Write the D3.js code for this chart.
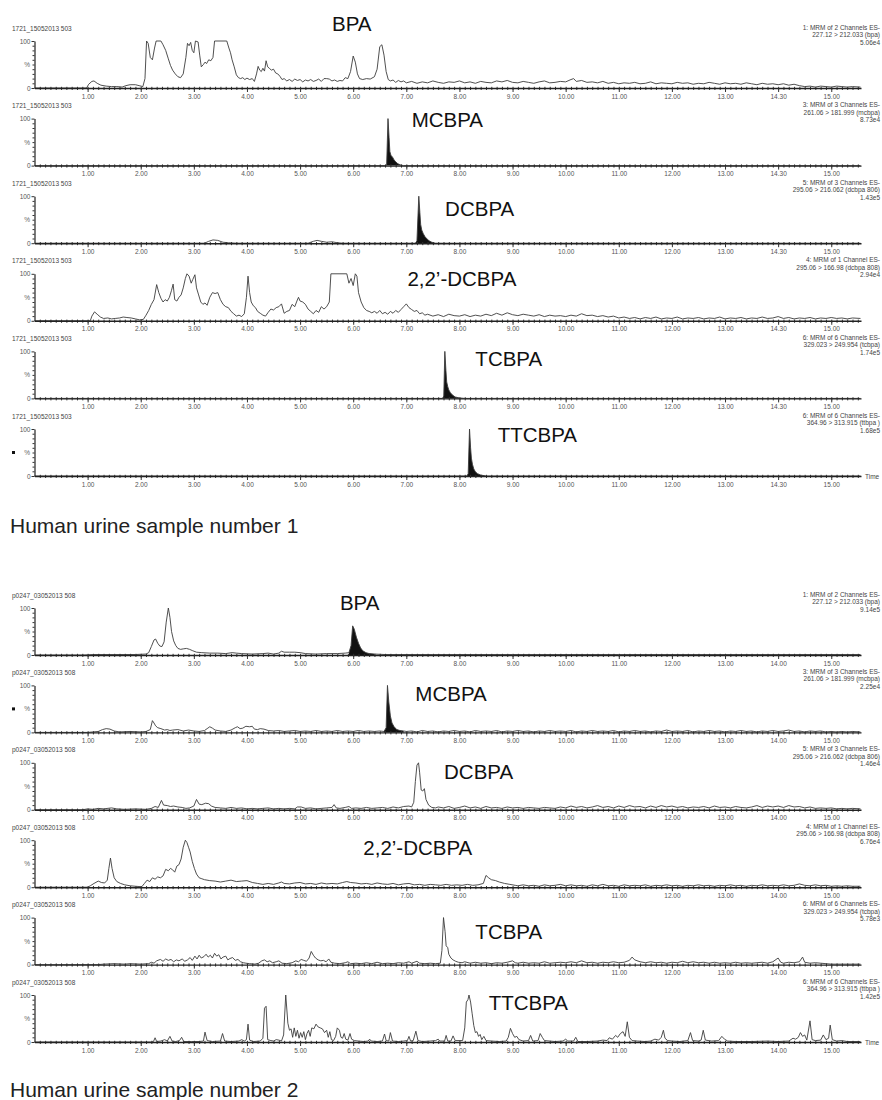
<!DOCTYPE html>
<html>
<head>
<meta charset="utf-8">
<script src="https://cdn.jsdelivr.net/npm/d3@7"></script>
<style>
  body { margin: 0; background: #fff; }
  text { font-family: "Liberation Sans", Arial, sans-serif; }
</style>
</head>
<body>
<div id="chart"></div>
<script>
// ---- data: [retention time (min), relative intensity (%)] ----

var s1Bpa = [[0,0],[0.5,0],[0.98,0],[1.02,8],[1.08,14],[1.12,15],[1.18,10],[1.25,6],[1.35,4],[1.45,3],[1.55,3],[1.65,2],[1.72,5],[1.8,7],[1.9,7],[1.97,5],[2.04,3],[2.08,20],[2.11,100],[2.14,95],[2.18,65],[2.22,60],[2.26,85],[2.29,100],[2.38,100],[2.42,92],[2.47,80],[2.52,62],[2.56,48],[2.6,38],[2.65,30],[2.7,24],[2.75,22],[2.8,30],[2.85,65],[2.88,95],[2.91,90],[2.94,97],[2.97,80],[3.0,75],[3.03,100],[3.08,98],[3.11,70],[3.14,45],[3.18,50],[3.21,55],[3.24,52],[3.28,60],[3.32,58],[3.36,65],[3.39,100],[3.62,100],[3.66,85],[3.69,75],[3.72,60],[3.76,45],[3.8,28],[3.84,22],[3.88,20],[3.92,22],[3.96,18],[4.0,21],[4.05,18],[4.1,20],[4.14,14],[4.18,30],[4.21,46],[4.24,38],[4.27,35],[4.3,42],[4.33,36],[4.36,58],[4.39,45],[4.42,42],[4.46,38],[4.5,40],[4.54,32],[4.58,30],[4.62,25],[4.66,18],[4.7,20],[4.75,15],[4.8,18],[4.85,14],[4.9,19],[4.95,16],[5.0,18],[5.05,13],[5.1,17],[5.15,15],[5.2,18],[5.25,14],[5.3,16],[5.35,19],[5.4,14],[5.45,20],[5.5,20],[5.55,19],[5.6,15],[5.65,17],[5.7,14],[5.75,16],[5.8,15],[5.85,22],[5.9,20],[5.95,35],[6.0,68],[6.04,55],[6.08,30],[6.12,20],[6.18,18],[6.25,20],[6.32,19],[6.4,24],[6.45,40],[6.5,88],[6.54,92],[6.58,70],[6.62,35],[6.66,18],[6.7,15],[6.75,17],[6.8,12],[6.85,16],[6.9,13],[6.95,15],[7.0,11],[7.1,14],[7.2,10],[7.3,13],[7.4,11],[7.5,15],[7.6,12],[7.7,10],[7.8,13],[7.9,12],[8.0,15],[8.1,11],[8.2,13],[8.3,10],[8.4,14],[8.5,12],[8.6,11],[8.7,15],[8.8,13],[8.9,16],[9.0,12],[9.1,11],[9.2,14],[9.3,12],[9.4,10],[9.5,13],[9.6,15],[9.7,11],[9.8,12],[9.9,14],[10.0,13],[10.1,18],[10.15,20],[10.2,14],[10.3,16],[10.4,12],[10.5,13],[10.6,11],[10.7,14],[10.8,10],[10.9,12],[11.0,9],[11.1,11],[11.2,10],[11.3,12],[11.4,9],[11.5,10],[11.6,13],[11.7,9],[11.8,11],[11.9,10],[12.0,9],[12.1,12],[12.2,10],[12.3,11],[12.4,8],[12.5,10],[12.6,9],[12.7,12],[12.8,10],[12.9,8],[13.0,11],[13.1,9],[13.2,10],[13.3,8],[13.4,11],[13.5,9],[13.6,7],[13.7,10],[13.8,8],[13.9,9],[14.0,7],[14.1,9],[14.2,6],[14.3,8],[14.4,5],[14.5,3],[14.6,4],[14.7,2],[14.8,4],[14.9,3],[15.0,2],[15.1,4],[15.2,3],[15.3,2],[15.4,3],[15.55,2]];

var s1Mcbpa = [[0,0],[6.6,0],[6.63,2],[6.655,100],[6.675,60],[6.69,30],[6.71,22],[6.74,18],[6.77,12],[6.8,8],[6.84,4],[6.9,1],[6.95,0],[15.55,0]];

var s1Dcbpa = [[0,0],[3.2,0],[3.28,4],[3.36,7],[3.45,6],[3.55,2],[3.65,1],[3.8,0],[5.15,0],[5.25,4],[5.32,6],[5.4,4],[5.5,2],[5.6,3],[5.7,1],[5.8,0],[7.17,0],[7.2,5],[7.235,100],[7.255,65],[7.27,40],[7.29,28],[7.32,20],[7.35,14],[7.39,9],[7.43,5],[7.48,2],[7.55,0],[15.55,0]];

var s1Dcbpa22 = [[0,0],[1.05,0],[1.08,10],[1.13,19],[1.18,14],[1.24,8],[1.3,5],[1.38,6],[1.45,4],[1.52,5],[1.6,6],[1.67,8],[1.74,7],[1.82,6],[1.9,4],[1.98,2],[2.05,3],[2.1,12],[2.15,22],[2.2,35],[2.25,45],[2.3,77],[2.34,60],[2.38,48],[2.42,40],[2.46,45],[2.5,42],[2.54,50],[2.58,65],[2.61,78],[2.64,45],[2.68,42],[2.72,50],[2.76,55],[2.8,70],[2.84,90],[2.87,100],[2.91,95],[2.95,80],[2.98,88],[3.02,98],[3.05,70],[3.09,55],[3.13,40],[3.17,35],[3.21,38],[3.25,33],[3.3,50],[3.35,60],[3.4,58],[3.45,60],[3.5,45],[3.55,35],[3.6,30],[3.65,28],[3.7,20],[3.75,15],[3.8,10],[3.85,12],[3.9,9],[3.95,15],[3.99,50],[4.02,95],[4.05,60],[4.08,40],[4.12,32],[4.16,28],[4.2,20],[4.25,16],[4.3,12],[4.35,10],[4.4,18],[4.45,25],[4.5,23],[4.55,28],[4.6,30],[4.65,36],[4.7,16],[4.75,20],[4.8,22],[4.85,35],[4.9,30],[4.94,42],[4.97,50],[5.0,42],[5.05,40],[5.1,35],[5.15,25],[5.2,20],[5.25,15],[5.3,22],[5.35,18],[5.4,30],[5.45,25],[5.5,30],[5.55,40],[5.58,100],[5.88,100],[5.92,80],[5.96,90],[6.0,75],[6.04,100],[6.07,95],[6.1,60],[6.15,40],[6.2,28],[6.25,22],[6.3,20],[6.35,17],[6.4,20],[6.45,16],[6.5,22],[6.55,15],[6.6,18],[6.65,14],[6.7,20],[6.75,16],[6.8,22],[6.85,18],[6.9,24],[6.95,30],[7.0,36],[7.05,28],[7.1,24],[7.15,20],[7.2,22],[7.25,15],[7.3,17],[7.35,12],[7.4,14],[7.5,10],[7.6,13],[7.7,9],[7.8,14],[7.9,11],[8.0,10],[8.1,13],[8.2,9],[8.3,12],[8.4,10],[8.5,14],[8.6,11],[8.7,16],[8.8,12],[8.9,17],[9.0,13],[9.1,11],[9.2,14],[9.3,12],[9.4,10],[9.5,13],[9.6,9],[9.7,12],[9.8,10],[9.9,11],[10.0,9],[10.1,12],[10.2,10],[10.3,15],[10.4,11],[10.5,12],[10.6,9],[10.7,11],[10.8,8],[10.9,10],[11.0,6],[11.1,8],[11.2,5],[11.3,7],[11.4,4],[11.5,7],[11.6,5],[11.7,8],[11.8,4],[11.9,6],[12.0,5],[12.1,8],[12.2,4],[12.3,6],[12.4,5],[12.5,7],[12.6,4],[12.7,6],[12.8,5],[12.9,8],[13.0,4],[13.1,6],[13.2,5],[13.3,7],[13.4,4],[13.5,6],[13.6,5],[13.7,8],[13.8,5],[13.9,6],[14.0,9],[14.1,5],[14.2,7],[14.3,4],[14.4,6],[14.5,5],[14.6,7],[14.7,4],[14.8,6],[14.9,5],[15.0,7],[15.1,5],[15.2,6],[15.3,4],[15.4,6],[15.55,5]];

var s1Tcbpa = [[0,0],[7.68,0],[7.705,5],[7.725,100],[7.745,60],[7.76,35],[7.78,25],[7.8,18],[7.83,12],[7.87,7],[7.92,3],[8.0,1],[8.1,0],[15.55,0]];

var s1Ttcbpa = [[0,0],[8.14,0],[8.165,5],[8.19,100],[8.21,60],[8.225,38],[8.245,25],[8.27,15],[8.3,9],[8.34,5],[8.4,2],[8.5,0],[15.55,0]];

var s2Bpa = [[0,0],[0.95,0],[1.1,1],[1.5,1],[1.9,1],[2.1,2],[2.15,5],[2.2,18],[2.25,32],[2.28,34],[2.32,25],[2.36,19],[2.4,18],[2.44,28],[2.48,70],[2.52,100],[2.55,80],[2.58,50],[2.62,30],[2.66,20],[2.7,14],[2.75,12],[2.8,13],[2.86,14],[2.92,12],[2.98,9],[3.05,6],[3.15,5],[3.3,4],[3.45,4],[3.6,3],[3.72,5],[3.8,4],[3.9,3],[4.1,2],[4.3,3],[4.4,4],[4.5,2],[4.6,4],[4.65,8],[4.7,6],[4.8,6],[4.9,6],[5.0,5],[5.1,3],[5.3,2],[5.5,3],[5.7,3],[5.85,4],[5.92,5],[5.96,20],[5.99,62],[6.02,55],[6.06,38],[6.1,25],[6.14,15],[6.18,9],[6.24,5],[6.3,3],[6.4,2],[6.6,1],[7.5,1],[9,1],[11,1],[13,1],[15.55,1]];

var s2Mcbpa = [[0,0],[1.0,0],[1.1,1],[1.2,2],[1.28,6],[1.35,8],[1.42,7],[1.5,3],[1.6,1],[1.8,2],[2.0,1],[2.1,2],[2.18,6],[2.22,25],[2.25,20],[2.28,14],[2.32,10],[2.38,8],[2.45,5],[2.5,6],[2.55,4],[2.6,5],[2.7,6],[2.8,3],[2.9,5],[3.0,3],[3.1,2],[3.2,4],[3.25,8],[3.3,12],[3.35,9],[3.4,5],[3.5,3],[3.6,2],[3.7,5],[3.78,10],[3.82,12],[3.87,8],[3.92,9],[3.98,13],[4.05,12],[4.1,13],[4.14,7],[4.2,6],[4.25,8],[4.32,7],[4.4,4],[4.5,3],[4.6,4],[4.7,2],[4.8,3],[4.9,4],[5.0,2],[5.1,3],[5.2,2],[5.3,4],[5.4,2],[5.5,3],[5.6,2],[5.7,4],[5.8,2],[5.9,3],[6.0,2],[6.1,4],[6.2,2],[6.3,3],[6.4,2],[6.5,3],[6.58,2],[6.62,10],[6.645,100],[6.67,65],[6.7,35],[6.73,20],[6.77,12],[6.82,6],[6.88,4],[6.95,3],[7.0,2],[7.1,3],[7.2,1],[7.3,4],[7.4,2],[7.5,3],[7.6,1],[7.7,3],[7.8,2],[7.9,4],[8.0,2],[8.1,3],[8.2,1],[8.3,4],[8.4,2],[8.5,3],[8.6,2],[8.7,4],[8.8,1],[8.9,3],[9.0,2],[9.1,4],[9.2,2],[9.3,3],[9.4,1],[9.5,3],[9.6,2],[9.7,4],[9.8,2],[9.9,3],[10.0,2],[10.1,4],[10.2,1],[10.3,3],[10.4,2],[10.5,4],[10.6,2],[10.7,3],[10.8,2],[10.9,4],[11.0,1],[11.1,3],[11.2,2],[11.3,4],[11.4,2],[11.5,3],[11.6,1],[11.7,3],[11.8,2],[11.9,5],[12.0,2],[12.1,3],[12.2,2],[12.3,4],[12.4,1],[12.5,3],[12.6,2],[12.7,4],[12.8,2],[12.9,3],[13.0,1],[13.1,3],[13.2,2],[13.3,4],[13.4,2],[13.5,3],[13.6,1],[13.7,3],[13.8,2],[13.9,4],[14.0,2],[14.1,3],[14.2,5],[14.3,2],[14.4,3],[14.5,1],[14.6,3],[14.7,2],[14.8,3],[14.9,1],[15.0,2],[15.1,1],[15.2,2],[15.3,1],[15.4,2],[15.55,1]];

var s2Dcbpa = [[0,0],[0.9,0],[1.0,2],[1.1,1],[1.2,3],[1.3,2],[1.45,4],[1.55,2],[1.7,1],[1.9,2],[2.1,1],[2.2,3],[2.27,7],[2.33,5],[2.39,20],[2.43,10],[2.5,9],[2.56,7],[2.62,8],[2.7,6],[2.78,5],[2.85,3],[2.92,4],[3.0,8],[3.05,22],[3.1,12],[3.15,11],[3.22,14],[3.28,13],[3.33,8],[3.4,5],[3.5,4],[3.6,3],[3.7,5],[3.8,3],[3.9,4],[4.0,2],[4.1,3],[4.2,2],[4.3,3],[4.4,4],[4.5,2],[4.6,3],[4.7,2],[4.8,3],[4.9,2],[4.95,6],[5.02,6],[5.1,3],[5.2,4],[5.3,2],[5.4,3],[5.5,4],[5.6,5],[5.64,11],[5.68,4],[5.75,3],[5.85,5],[5.92,7],[5.97,3],[6.05,4],[6.15,3],[6.25,5],[6.35,3],[6.45,4],[6.55,5],[6.65,3],[6.75,6],[6.85,4],[6.95,7],[7.05,8],[7.1,6],[7.14,16],[7.17,60],[7.2,95],[7.23,100],[7.25,80],[7.28,42],[7.31,40],[7.34,45],[7.37,22],[7.42,10],[7.48,5],[7.55,4],[7.6,6],[7.7,4],[7.8,7],[7.9,3],[8.0,5],[8.1,8],[8.2,4],[8.3,6],[8.4,3],[8.5,7],[8.6,4],[8.7,5],[8.8,3],[8.9,6],[9.0,4],[9.1,5],[9.2,3],[9.3,5],[9.4,4],[9.5,3],[9.6,5],[9.7,4],[9.8,3],[9.9,6],[10.0,4],[10.1,8],[10.2,5],[10.3,7],[10.4,4],[10.5,6],[10.6,9],[10.7,5],[10.8,7],[10.9,4],[11.0,8],[11.1,5],[11.2,9],[11.3,6],[11.4,7],[11.5,4],[11.6,8],[11.7,5],[11.8,9],[11.9,6],[12.0,8],[12.1,5],[12.2,7],[12.3,4],[12.4,6],[12.5,5],[12.6,7],[12.7,4],[12.8,8],[12.9,5],[13.0,6],[13.1,4],[13.2,7],[13.3,5],[13.4,4],[13.5,6],[13.6,9],[13.7,5],[13.8,8],[13.9,6],[14.0,8],[14.1,5],[14.2,9],[14.3,6],[14.4,7],[14.5,4],[14.6,6],[14.7,3],[14.8,4],[14.9,3],[15.0,4],[15.1,2],[15.2,3],[15.3,2],[15.4,3],[15.55,2]];

var s2Dcbpa22 = [[0,0],[1.0,0],[1.05,3],[1.12,8],[1.2,13],[1.26,10],[1.32,9],[1.37,15],[1.4,40],[1.43,62],[1.46,40],[1.5,20],[1.55,12],[1.62,8],[1.7,5],[1.8,3],[1.9,2],[2.02,1],[2.07,8],[2.12,15],[2.17,12],[2.22,20],[2.27,17],[2.32,22],[2.37,20],[2.42,24],[2.47,38],[2.52,35],[2.56,40],[2.6,37],[2.64,32],[2.68,45],[2.72,48],[2.76,60],[2.8,85],[2.84,100],[2.87,95],[2.9,85],[2.93,75],[2.97,55],[3.01,40],[3.05,28],[3.1,20],[3.15,18],[3.2,16],[3.3,14],[3.4,13],[3.5,11],[3.6,13],[3.7,15],[3.8,12],[3.9,13],[4.0,14],[4.1,10],[4.2,8],[4.3,6],[4.4,8],[4.5,6],[4.6,9],[4.65,11],[4.7,8],[4.8,7],[4.9,9],[5.0,10],[5.1,7],[5.2,8],[5.3,6],[5.4,9],[5.5,7],[5.6,8],[5.7,7],[5.8,10],[5.88,12],[5.95,10],[6.05,9],[6.15,7],[6.25,8],[6.35,6],[6.45,9],[6.55,7],[6.65,6],[6.75,8],[6.85,5],[6.95,7],[7.05,8],[7.15,5],[7.25,6],[7.35,4],[7.45,6],[7.55,5],[7.65,4],[7.75,6],[7.85,4],[7.95,5],[8.05,4],[8.15,6],[8.25,4],[8.35,5],[8.45,8],[8.5,25],[8.55,20],[8.6,16],[8.68,14],[8.75,11],[8.85,8],[8.95,6],[9.05,4],[9.1,3],[9.2,5],[9.3,3],[9.4,4],[9.5,2],[9.6,5],[9.7,3],[9.8,4],[9.9,6],[10.0,3],[10.1,5],[10.2,3],[10.3,4],[10.4,2],[10.5,5],[10.6,3],[10.7,6],[10.8,3],[10.9,4],[11.0,2],[11.1,5],[11.2,3],[11.3,4],[11.4,3],[11.5,5],[11.6,2],[11.7,4],[11.8,3],[11.9,5],[12.0,3],[12.1,4],[12.2,2],[12.3,4],[12.4,3],[12.5,5],[12.6,3],[12.7,4],[12.8,2],[12.9,4],[13.0,3],[13.1,5],[13.2,3],[13.3,4],[13.4,2],[13.5,4],[13.6,3],[13.7,5],[13.8,3],[13.9,4],[14.0,3],[14.1,5],[14.2,3],[14.3,4],[14.4,7],[14.5,4],[14.6,3],[14.7,5],[14.8,3],[14.9,4],[15.0,2],[15.1,3],[15.2,2],[15.3,3],[15.4,2],[15.55,2]];

var s2Tcbpa = [[0,0],[1.2,0],[1.3,1],[1.5,2],[1.7,1],[1.8,2],[2.0,1],[2.15,2],[2.2,5],[2.25,3],[2.3,8],[2.37,11],[2.42,7],[2.47,12],[2.52,9],[2.57,11],[2.62,6],[2.67,10],[2.72,8],[2.78,12],[2.83,7],[2.88,10],[2.93,15],[2.97,9],[3.02,18],[3.06,12],[3.1,20],[3.14,14],[3.19,17],[3.23,22],[3.27,16],[3.31,20],[3.35,14],[3.39,24],[3.43,18],[3.47,21],[3.51,12],[3.55,16],[3.6,18],[3.64,10],[3.68,13],[3.73,15],[3.78,9],[3.83,11],[3.88,6],[3.93,4],[3.98,3],[4.05,2],[4.15,1],[4.22,3],[4.28,8],[4.33,10],[4.38,6],[4.43,8],[4.48,4],[4.55,6],[4.6,8],[4.66,3],[4.75,2],[4.85,4],[4.92,8],[4.97,6],[5.02,11],[5.07,9],[5.12,7],[5.17,14],[5.21,28],[5.25,20],[5.29,14],[5.34,10],[5.39,8],[5.44,9],[5.49,6],[5.54,12],[5.58,5],[5.65,3],[5.75,2],[5.85,4],[5.9,6],[5.95,2],[6.05,3],[6.15,2],[6.25,4],[6.35,2],[6.45,5],[6.55,2],[6.65,3],[6.75,2],[6.85,4],[6.95,3],[7.05,6],[7.1,3],[7.2,7],[7.25,3],[7.35,2],[7.45,3],[7.55,2],[7.64,3],[7.67,30],[7.7,100],[7.73,70],[7.75,40],[7.78,36],[7.8,22],[7.84,14],[7.88,10],[7.93,7],[7.98,5],[8.05,4],[8.1,6],[8.2,3],[8.3,5],[8.4,3],[8.5,4],[8.6,2],[8.7,4],[8.8,3],[8.9,5],[9.0,8],[9.05,4],[9.1,3],[9.2,5],[9.3,3],[9.4,4],[9.5,3],[9.6,6],[9.7,3],[9.8,4],[9.9,5],[10.0,4],[10.1,6],[10.2,4],[10.3,8],[10.4,4],[10.5,5],[10.6,3],[10.7,5],[10.8,4],[10.9,6],[11.0,4],[11.1,5],[11.2,9],[11.25,16],[11.3,10],[11.4,6],[11.5,4],[11.6,6],[11.7,4],[11.8,5],[11.9,3],[12.0,5],[12.1,4],[12.2,7],[12.3,4],[12.4,6],[12.5,4],[12.6,5],[12.7,3],[12.8,5],[12.9,3],[13.0,4],[13.1,3],[13.2,5],[13.3,3],[13.4,4],[13.5,3],[13.6,4],[13.7,5],[13.8,3],[13.9,6],[14.0,14],[14.05,5],[14.1,3],[14.2,5],[14.3,4],[14.4,6],[14.46,16],[14.5,5],[14.6,3],[14.7,4],[14.8,3],[14.9,2],[15.0,1],[15.2,1],[15.55,1]];

var s2Ttcbpa = [[0,0],[2.2,0],[2.24,1],[2.27,9],[2.3,1],[2.38,2],[2.45,5],[2.5,2],[2.55,12],[2.59,2],[2.66,1],[2.73,3],[2.77,10],[2.81,1],[2.95,1],[3.1,1],[3.18,2],[3.21,21],[3.25,3],[3.35,1],[3.5,2],[3.54,18],[3.58,2],[3.7,1],[3.85,2],[3.9,5],[3.95,2],[3.99,5],[4.02,38],[4.05,4],[4.12,1],[4.25,2],[4.3,8],[4.33,72],[4.36,76],[4.39,5],[4.45,3],[4.5,2],[4.55,5],[4.6,4],[4.65,2],[4.69,15],[4.73,100],[4.77,40],[4.8,25],[4.83,28],[4.86,10],[4.89,30],[4.92,12],[4.95,25],[4.98,8],[5.01,20],[5.04,10],[5.07,22],[5.1,5],[5.13,18],[5.16,25],[5.19,12],[5.22,30],[5.26,28],[5.3,38],[5.34,32],[5.38,30],[5.42,28],[5.46,20],[5.5,25],[5.53,10],[5.56,22],[5.59,5],[5.63,3],[5.67,12],[5.7,30],[5.74,25],[5.77,10],[5.8,8],[5.83,18],[5.86,6],[5.9,4],[5.94,18],[5.97,6],[6.02,3],[6.1,2],[6.2,1],[6.28,2],[6.31,6],[6.34,2],[6.45,1],[6.55,2],[6.59,17],[6.62,3],[6.67,2],[6.7,20],[6.74,2],[6.85,1],[6.95,2],[7.02,3],[7.05,12],[7.08,2],[7.13,3],[7.18,23],[7.22,3],[7.3,1],[7.45,2],[7.55,3],[7.6,6],[7.63,2],[7.72,2],[7.75,14],[7.78,2],[7.84,2],[7.88,13],[7.92,3],[8.06,3],[8.1,30],[8.13,85],[8.16,90],[8.18,100],[8.21,85],[8.24,60],[8.27,35],[8.3,20],[8.33,22],[8.36,12],[8.39,16],[8.42,5],[8.46,12],[8.5,3],[8.6,2],[8.75,1],[8.88,2],[8.92,10],[8.96,29],[9.0,18],[9.04,10],[9.08,12],[9.12,5],[9.2,2],[9.3,3],[9.34,14],[9.38,2],[9.48,3],[9.52,18],[9.56,10],[9.6,3],[9.7,2],[9.8,1],[9.95,2],[10.0,6],[10.04,2],[10.15,2],[10.19,10],[10.23,1],[10.4,1],[10.6,2],[10.7,4],[10.78,3],[10.82,9],[10.88,6],[10.94,14],[10.98,10],[11.03,18],[11.08,22],[11.12,12],[11.16,43],[11.2,10],[11.25,3],[11.35,2],[11.5,1],[11.6,2],[11.68,6],[11.75,4],[11.8,10],[11.84,25],[11.87,8],[11.92,3],[12.0,2],[12.15,1],[12.3,3],[12.35,20],[12.39,3],[12.5,2],[12.55,4],[12.59,25],[12.63,4],[12.75,2],[12.88,3],[12.94,12],[12.99,6],[13.05,2],[13.2,1],[13.5,1],[13.8,2],[14.0,1],[14.2,2],[14.28,8],[14.33,6],[14.38,10],[14.42,20],[14.46,12],[14.5,15],[14.54,4],[14.6,45],[14.64,5],[14.7,3],[14.8,4],[14.85,15],[14.9,5],[14.95,8],[14.98,36],[15.02,5],[15.1,2],[15.2,3],[15.3,1],[15.55,1]];

// integrated (black filled) peak windows, minutes; null = not filled
var s1Fills = [null, [6.6, 6.95], [7.17, 7.55], null, [7.68, 8.1], [8.14, 8.5]];
var s2Fills = [[5.92, 6.4], [6.58, 6.95], null, null, null, null];

var compounds = ["BPA", "MCBPA", "DCBPA", "2,2\u2019-DCBPA", "TCBPA", "TTCBPA"];
// where each compound name sits, in [min, %] of its own panel
var s1NamePos = [[5.6,121],[7.1,83],[7.73,58],[7.02,74],[8.3,68],[8.72,72]];
var s2NamePos = [[5.75,96],[7.17,67],[7.71,65],[6.19,68],[8.3,54],[8.55,68]];

var channelLines = [
  ["1: MRM of 2 Channels ES-", "227.12 > 212.033 (bpa)"],
  ["3: MRM of 3 Channels ES-", "261.06 > 181.999 (mcbpa)"],
  ["5: MRM of 3 Channels ES-", "295.06 > 216.062 (dcbpa 806)"],
  ["4: MRM of 1 Channel ES-", "295.06 > 166.98 (dcbpa 808)"],
  ["6: MRM of 6 Channels ES-", "329.023 > 249.954 (tcbpa)"],
  ["6: MRM of 6 Channels ES-", "364.96 > 313.915 (ttbpa )"]
];
var s1Intensity = ["5.06e4", "8.73e4", "1.43e5", "2.94e4", "1.74e5", "1.68e5"];
var s2Intensity = ["9.14e5", "2.25e4", "1.46e4", "6.76e4", "5.78e3", "1.42e5"];

var majorTicks = [1,2,3,4,5,6,7,8,9,10,11,12,13,14,15];
var s1TickLabels = ["1.00","2.00","3.00","4.00","5.00","6.00","7.00","8.00","9.00","10.00","11.00","12.00","13.00","14.30","15.00"];
var s2TickLabels = ["1.00","2.00","3.00","4.00","5.00","6.00","7.00","8.00","9.00","10.00","11.00","12.00","13.00","14.00","15.00"];

var samples = [
  { file: "1721_15052013 503", traces: [s1Bpa, s1Mcbpa, s1Dcbpa, s1Dcbpa22, s1Tcbpa, s1Ttcbpa],
    fills: s1Fills, names: s1NamePos, intensity: s1Intensity, ticks: s1TickLabels,
    caption: "Human urine sample number 1", marker: 5, zero: 88, pitch: 77.6, captionY: 532.5 },
  { file: "p0247_03052013 508", traces: [s2Bpa, s2Mcbpa, s2Dcbpa, s2Dcbpa22, s2Tcbpa, s2Ttcbpa],
    fills: s2Fills, names: s2NamePos, intensity: s2Intensity, ticks: s2TickLabels,
    caption: "Human urine sample number 2", marker: 1, zero: 655, pitch: 77.4, captionY: 1097 }
];

// ---- drawing ----
var svg = d3.select("#chart")
  .append("svg")
  .attr("width", 882)
  .attr("height", 1100);

var x = d3.scaleLinear().domain([0, 15.56]).range([34.5, 861]);
var minorTicks = d3.range(1, 156).map(function (d) { return d / 10; });
var yMinor = [10, 20, 30, 40, 50, 60, 70, 80, 90];

samples.forEach(function (s) {
  s.traces.forEach(function (trace, i) {
    var zero = s.zero + s.pitch * i;
    var y = d3.scaleLinear().domain([0, 100]).range([zero, zero - 47]);
    var g = svg.append("g");

    // header and channel description
    g.append("text").attr("x", 12).attr("y", zero - 57.5)
      .style("font-size", "6.5px").style("fill", "#444").text(s.file);
    var right = channelLines[i].concat([s.intensity[i]]);
    right.forEach(function (t, k) {
      g.append("text").attr("x", 880).attr("y", zero - 58.5 + k * 7.5)
        .attr("text-anchor", "end")
        .style("font-size", "6.5px").style("fill", "#444").text(t);
    });

    // filled peak
    if (s.fills[i]) {
      var w = s.fills[i];
      var area = d3.area()
        .x(function (d) { return x(d[0]); })
        .y0(zero)
        .y1(function (d) { return y(d[1]); });
      g.append("path")
        .datum(trace.filter(function (d) { return d[0] >= w[0] && d[0] <= w[1]; }))
        .attr("d", area)
        .style("fill", "#111");
    }

    // trace
    var line = d3.line()
      .x(function (d) { return x(d[0]); })
      .y(function (d) { return y(d[1]); });
    g.append("path")
      .datum(trace)
      .attr("d", line)
      .style("fill", "none")
      .style("stroke", "#3c3c3c")
      .style("stroke-width", 0.9)
      .style("stroke-linejoin", "round");

    // x axis: minor then major ticks
    var xMinor = g.append("g").attr("transform", "translate(0," + zero + ")")
      .call(d3.axisBottom(x).tickValues(minorTicks).tickSize(2).tickFormat(""));
    xMinor.select(".domain").remove();
    xMinor.selectAll("line").style("stroke", "#333").attr("y1", -1.2);

    var xAxis = g.append("g").attr("transform", "translate(0," + zero + ")")
      .call(d3.axisBottom(x).tickValues(majorTicks).tickSizeInner(4).tickSizeOuter(0).tickPadding(2)
        .tickFormat(function (d, k) { return s.ticks[k]; }));
    xAxis.select(".domain").style("stroke", "#222").style("stroke-width", 1.4);
    xAxis.selectAll("line").style("stroke", "#333");
    xAxis.selectAll("text").style("font-size", "6.5px").style("fill", "#555")
      .style("font-family", "'Liberation Sans', Arial, sans-serif");

    // y axis
    var yMin = g.append("g").attr("transform", "translate(" + x(0) + ",0)")
      .call(d3.axisLeft(y).tickValues(yMinor).tickSize(2).tickFormat(""));
    yMin.select(".domain").remove();
    yMin.selectAll("line").style("stroke", "#333");
    var yAxis = g.append("g").attr("transform", "translate(" + x(0) + ",0)")
      .call(d3.axisLeft(y).tickValues([0, 100]).tickSizeInner(3).tickSizeOuter(0).tickPadding(1));
    yAxis.select(".domain").style("stroke", "#222").style("stroke-width", 1.2);
    yAxis.selectAll("line").style("stroke", "#333");
    yAxis.selectAll("text").style("font-size", "6.5px").style("fill", "#555")
      .style("font-family", "'Liberation Sans', Arial, sans-serif");
    g.append("text").attr("x", 30).attr("y", y(50) + 2.5).attr("text-anchor", "end")
      .style("font-size", "6.5px").style("fill", "#666").text("%");

    if (s.marker === i) {
      g.append("rect").attr("x", 12).attr("y", y(50) - 1.5).attr("width", 3).attr("height", 3)
        .style("fill", "#111");
    }

    if (i === 5) {
      g.append("text").attr("x", 865).attr("y", zero + 2.5)
        .style("font-size", "6.5px").style("fill", "#444").text("Time");
    }

    // compound name
    g.append("text")
      .attr("x", x(s.names[i][0]))
      .attr("y", y(s.names[i][1]))
      .style("font-size", "20.5px").style("fill", "#111")
      .text(compounds[i]);
  });

  svg.append("text").attr("x", 10).attr("y", s.captionY)
    .style("font-size", "21px").style("fill", "#222")
    .text(s.caption);
});
</script>
</body>
</html>
